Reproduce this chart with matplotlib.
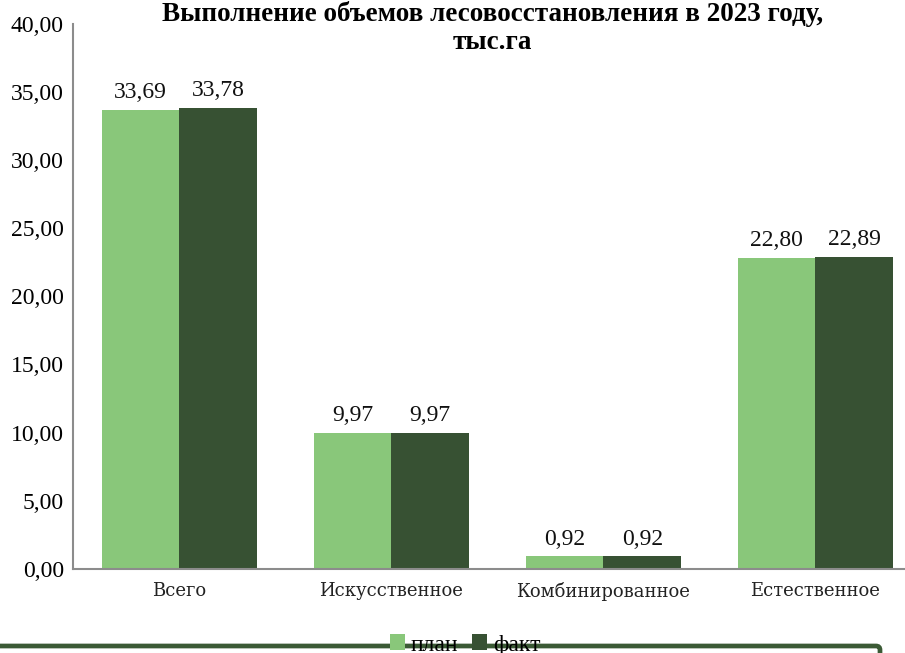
import numpy as np
import matplotlib
matplotlib.use("Agg")
import matplotlib.pyplot as plt
from matplotlib.patches import FancyBboxPatch

# данные
categories = ["Всего", "Искусственное", "Комбинированное", "Естественное"]
plan = [33.69, 9.97, 0.92, 22.80]
fact = [33.78, 9.97, 0.92, 22.89]
series_names = ["план", "факт"]
y_ticks = [0, 5, 10, 15, 20, 25, 30, 35, 40]

c_plan = "#89c77a"
c_fact = "#375133"
c_border = "#3b5a35"

num_font = "Liberation Serif"
cat_font = "DejaVu Serif"

fig = plt.figure(figsize=(9.05, 6.53), dpi=100)
ax = fig.add_axes([0.0812, 0.1286, 0.937, 0.8354])

x = np.arange(len(categories))
w = 0.366
b1 = ax.bar(x - w / 2, plan, w, color=c_plan, label=series_names[0])
b2 = ax.bar(x + w / 2, fact, w, color=c_fact, label=series_names[1])

# подписи значений
for bars in (b1, b2):
    for r in bars:
        v = r.get_height()
        ax.annotate(f"{v:.2f}".replace(".", ","), (r.get_x() + r.get_width() / 2, v),
                    xytext=(0, 5), textcoords="offset points", ha="center", va="bottom",
                    fontsize=17, family=num_font, color="#111111")

ax.set_xlim(-0.5, len(categories) - 0.5)
ax.set_ylim(0, 40)
ax.set_yticks(y_ticks)
ax.set_yticklabels([f"{t:.2f}".replace(".", ",") for t in y_ticks], fontsize=17, family=num_font)
ax.set_xticks(x)
ax.set_xticklabels(categories, fontsize=13, family=cat_font, color="#222222")
ax.tick_params(axis="y", length=0, pad=7)
ax.tick_params(axis="x", length=0, pad=9)
for s in ("top", "right"):
    ax.spines[s].set_visible(False)
for s in ("left", "bottom"):
    ax.spines[s].set_color("#8c8c8c")
    ax.spines[s].set_linewidth(1.5)

fig.text(0.544, 0.999, "Выполнение объемов лесовосстановления в 2023 году,\nтыс.га",
         ha="center", va="top", fontsize=19.5, fontweight="bold", family=num_font,
         linespacing=1.2)

# рамка легенды (обрезана снизу)
frame = FancyBboxPatch((-20, -40), 900, 653 - 646 + 40, boxstyle="round,pad=0,rounding_size=4",
                       transform=None, fill=False, edgecolor=c_border, linewidth=3.4, clip_on=False)
fig.patches.append(frame)

fig.legend(handles=[b1, b2], labels=series_names, loc="center", bbox_to_anchor=(0.514, 1 - 645 / 653),
           ncol=2, frameon=False, prop={"family": num_font, "size": 17},
           handlelength=0.63, handleheight=0.63, handletextpad=0.25, columnspacing=0.6, borderpad=0)

fig.savefig("out.png", dpi=100)
